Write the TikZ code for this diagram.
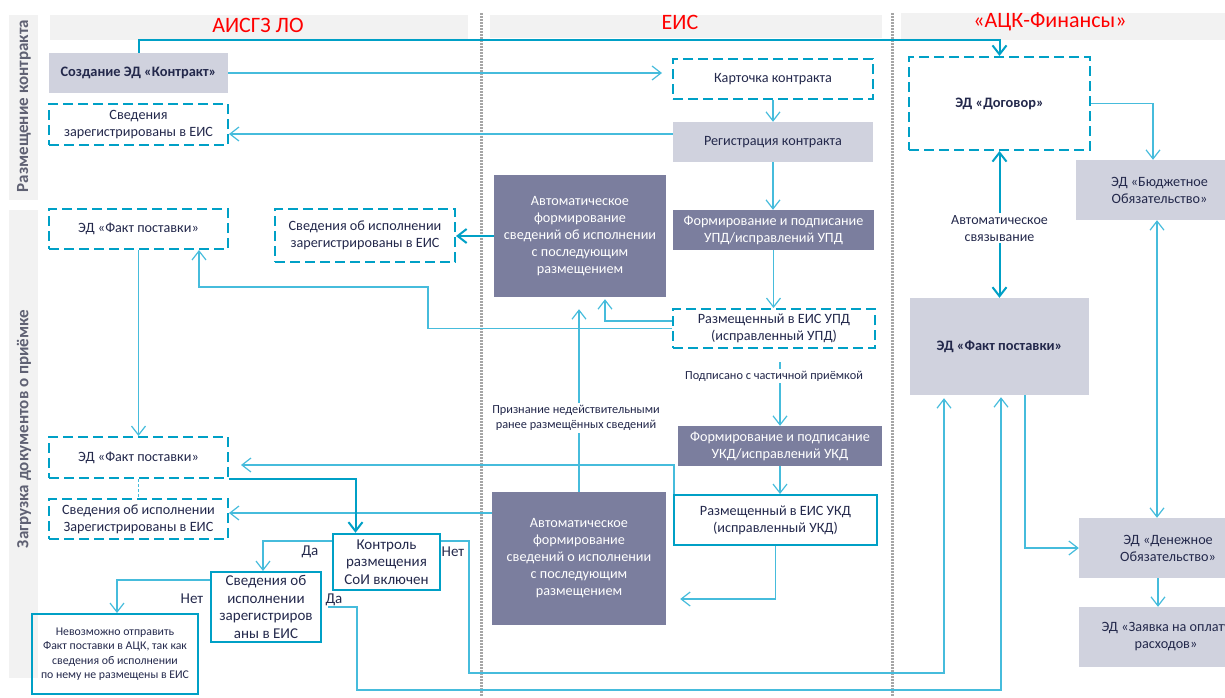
\documentclass[tikz,border=0pt]{standalone}
\usepackage{fontspec}
\setmainfont{Carlito}
\usepackage{tikz}
\usetikzlibrary{calc}
\usetikzlibrary{arrows.meta}

\definecolor{linemain}{RGB}{0,160,198}
\definecolor{linelight}{RGB}{70,188,220}
\definecolor{boxgray}{RGB}{208,210,222}
\definecolor{boxdark}{RGB}{123,126,158}
\definecolor{headgray}{RGB}{242,242,242}
\definecolor{txtdark}{RGB}{35,40,75}
\definecolor{lanetxt}{RGB}{95,97,115}

\tikzset{
  vtip/.tip={Straight Barb[length=9pt,width=14pt]},
  base/.style={inner sep=0pt, align=center, text=txtdark, font=\fontsize{14.2}{17}\selectfont},
  bold/.style={font=\fontsize{14.4}{17}\selectfont\bfseries},
  big/.style={font=\fontsize{15}{17.5}\selectfont},
  small/.style={font=\fontsize{11.8}{14.5}\selectfont},
  graybox/.style={base, fill=boxgray},
  darkbox/.style={base, fill=boxdark, text=white},
  dashbox/.style={base, draw=linemain, line width=2pt, dash pattern=on 10pt off 5pt},
  solidbox/.style={base, draw=linemain, line width=2pt},
  headtext/.style={text=red, font=\fontsize{22}{24}\selectfont, inner sep=0pt, anchor=base},
  lanetext/.style={text=lanetxt, font=\fontsize{17}{18}\selectfont\bfseries, inner sep=0pt, rotate=90},
  note/.style={fill=white, text=txtdark, align=center, inner sep=2pt, font=\fontsize{12.3}{15.5}\selectfont},
  answer/.style={text=txtdark, font=\fontsize{15}{16}\selectfont, inner sep=0pt, anchor=base},
  conn/.style={draw=linelight, line width=1.2pt, -vtip},
  connmain/.style={draw=linemain, line width=2pt, -vtip},
  sepline/.style={draw=black!35, line width=3pt, dash pattern=on 1.5pt off 1.5pt}
}

\begin{document}
\begin{tikzpicture}[x=1pt,y=-1pt]
\useasboundingbox (0,0) rectangle (1225,697);
		% lanes and headers
		\fill[headgray] (9,15) rectangle (38,200);
		\fill[headgray] (9,210) rectangle (38,678);
		\fill[headgray] (50,15) rectangle (468,40);
		\fill[headgray] (490,15) rectangle (882,38);
		\fill[headgray] (901,13) rectangle (1225,40);
		\node[lanetext] (laneA) at (24,106) {Размещение контракта};
		\node[lanetext] (laneB) at (24,429) {Загрузка документов о приёмке};
		\node[headtext] (hAisgz) at (258,32) {АИСГЗ ЛО};
		\node[headtext] (hEis) at (680,29) {ЕИС};
		\node[headtext] (hAck) at (1050,27) {«АЦК-Финансы»};
		\draw[sepline] (481,13) -- (481,697);
		\draw[sepline] (892,13) -- (892,697);
		% АИСГЗ ЛО
		\node[graybox, bold, minimum width=179pt, minimum height=40pt] (kontr) at (138.5,73) {Создание ЭД «Контракт»};
		\node[dashbox, minimum width=179pt, minimum height=41pt] (sved) at (138.5,124.5) {Сведения\\зарегистрированы в ЕИС};
		\node[dashbox, minimum width=179pt, minimum height=40pt] (fakta) at (138.5,229) {ЭД «Факт поставки»};
		\node[dashbox, minimum width=180pt, minimum height=53pt] (ispa) at (365,235.5) {Сведения об исполнении\\зарегистрированы в ЕИС};
		\node[dashbox, minimum width=179pt, minimum height=41pt] (faktb) at (138.5,457.5) {ЭД «Факт поставки»};
		\node[dashbox, minimum width=179pt, minimum height=40pt] (ispb) at (138.5,519) {Сведения об исполнении\\Зарегистрированы в ЕИС};
		\node[solidbox, big, line width=2.5pt, minimum width=107pt, minimum height=56pt] (kontrol) at (386.5,562) {Контроль\\размещения\\СоИ включен};
		\node[solidbox, big, minimum width=110pt, minimum height=70pt] (svedob) at (266,607) {Сведения об\\исполнении\\зарегистриров\\аны в ЕИС};
		\node[solidbox, small, minimum width=166pt, minimum height=80pt] (nevozm) at (115,654) {Невозможно отправить\\Факт поставки в АЦК, так как\\сведения об исполнении\\по нему не размещены в ЕИС};
		% ЕИС
		\node[dashbox, minimum width=200pt, minimum height=40pt] (kartochka) at (773,79) {Карточка контракта};
		\node[graybox, minimum width=200pt, minimum height=40pt] (registr) at (773,142) {Регистрация контракта};
		\node[darkbox, minimum width=172pt, minimum height=122pt] (avtoa) at (580,236) {Автоматическое\\формирование\\сведений об исполнении\\с последующим\\размещением};
		\node[darkbox, minimum width=201pt, minimum height=40pt] (formupd) at (773.5,230) {Формирование и подписание\\УПД/исправлений УПД};
		\node[dashbox, minimum width=202pt, minimum height=39pt] (razmupd) at (774,328.5) {Размещенный в ЕИС УПД\\(исправленный УПД)};
		\node[darkbox, minimum width=204pt, minimum height=40pt] (formukd) at (780,446) {Формирование и подписание\\УКД/исправлений УКД};
		\node[solidbox, minimum width=203pt, minimum height=50pt] (razmukd) at (775.5,520) {Размещенный в ЕИС УКД\\(исправленный УКД)};
		\node[darkbox, minimum width=174pt, minimum height=133pt] (avtob) at (579,558.5) {Автоматическое\\формирование\\сведений о исполнении\\с последующим\\размещением};
		% АЦК-Финансы
		\node[dashbox, bold, minimum width=181pt, minimum height=93pt] (dogovor) at (999.5,103.5) {ЭД «Договор»};
		\node[graybox, minimum width=167pt, minimum height=60pt] (budzh) at (1159.5,190) {ЭД «Бюджетное\\Обязательство»};
		\node[graybox, bold, minimum width=179pt, minimum height=97pt] (faktc) at (999.5,346.5) {ЭД «Факт поставки»};
		\node[graybox, minimum width=178pt, minimum height=60pt] (denezh) at (1168,548) {ЭД «Денежное\\Обязательство»};
		\node[graybox, minimum width=174pt, minimum height=60pt] (zayavka) at (1166,637) {ЭД «Заявка на оплату\\расходов»};
		\coordinate (topbus) at (999.5,40);
		\coordinate (bendA) at (428,287);
		\coordinate (netbus) at (469,673);
		\coordinate (dabus) at (357,690);
		% connectors
		\draw[connmain] (kontr.north) |- (topbus) -- (dogovor.north);
		\draw[conn, shorten >=10pt] (kontr.east) -- (kontr.east -| kartochka.west);
		\draw[conn] (kartochka.south) -- (kartochka.south |- registr.north);
		\draw[conn] ($(registr.west)+(0,-8)$) -- ($(registr.west -| sved.east)+(0,-8)$);
		\draw[conn] (registr.south) -- (registr.south |- formupd.north);
		\draw[conn] (formupd.south) -- (formupd.south |- razmupd.north);
		\draw[conn, shorten >=2pt] ($(razmupd.west)+(0,-7.5)$) -| ($(avtoa.south)+(25,0)$);
		\draw[conn] (razmupd.west) -| (bendA) -| ($(fakta.south)+(60.5,0)$);
		\draw[connmain] (avtoa.west) -- (avtoa.west -| ispa.east);
		\draw[conn] (fakta) -- (faktb);
		\draw[draw=linelight, line width=1pt, dash pattern=on 3pt off 2pt] (faktb) -- (ispb);
		\draw[conn, shorten <=13pt] (razmupd.south -| formukd.north) -- (formukd.north)
			node[note, pos=0.35, xshift=-6pt] (podp) {Подписано с частичной приёмкой};
		\draw[conn] (formukd.south) -- (formukd.south |- razmukd.north);
		\draw[conn, shorten >=14pt] (razmukd.south) |- ($(avtob.east)+(0,40.5)$);
		\draw[conn, shorten >=12pt] (avtob.north) -- (avtob.north |- avtoa.south)
			node[note, pos=0.38, xshift=-3pt] (priznan) {Признание недействительными\\ранее размещённых сведений};
		\draw[conn, shorten >=12pt] ($(razmukd.north west)+(1,0)$) |- ($(faktb.east)+(0,7.5)$);
		\draw[conn] ($(ispb.east -| avtob.west)+(0,-6)$) -- ($(ispb.east)+(0,-6)$);
		\draw[connmain] (faktb.south east) -| ($(kontrol.north)+(-31,0)$);
		\draw[conn] ($(kontrol.west)+(0,-21)$) -| ($(svedob.north)+(-3,0)$);
		\draw[conn] ($(svedob.west)+(0,-27)$) -| ($(nevozm.north)+(2,0)$);
		\draw[conn, shorten >=3pt] ($(kontrol.east)+(0,-21)$) -| (netbus) -| ($(faktc.south)+(-55.5,0)$);
		\draw[conn, shorten <=6pt, shorten >=2pt] (svedob.east) -| (dabus) -| ($(faktc.south)+(1.5,0)$);
		\draw[conn] ($(faktc.south)+(25.5,0)$) |- (denezh.west);
		\draw[connmain, vtip-vtip] (dogovor.south) -- (faktc.north)
			node[note, midway, yshift=-4pt, font=\fontsize{14}{17}\selectfont] (svyaz) {Автоматическое\\связывание};
		\draw[conn] (dogovor.east) -| ($(budzh.north)+(-6.5,0)$);
		\draw[conn, vtip-vtip] ($(budzh.south)+(-2.5,0)$) -- ($(denezh.north)+(-11,0)$);
		\draw[conn] ($(denezh.south)+(-10,0)$) -- ($(zayavka.north)+(-8,0)$);
		% answers
		\node[answer] (daA) at (310,555) {Да};
		\node[answer] (netA) at (453,556) {Нет};
		\node[answer] (netB) at (192,603) {Нет};
		\node[answer] (daB) at (334,603) {Да};
\end{tikzpicture}
\end{document}
